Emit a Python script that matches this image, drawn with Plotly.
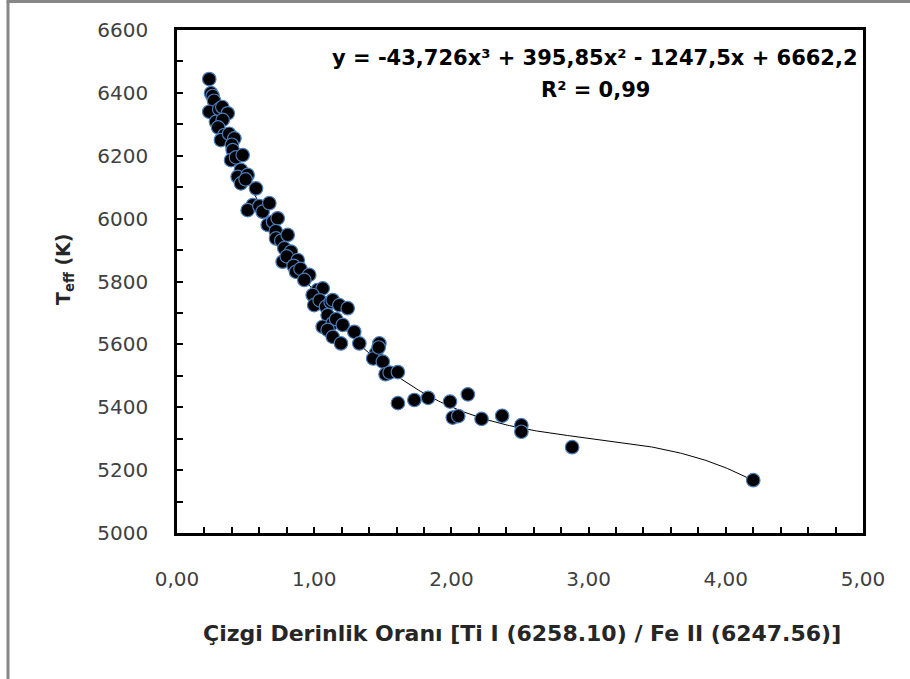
import numpy as np
import plotly.graph_objects as go

# Line depth ratio (x) and effective temperature (y)
ratio = [0.235, 0.248, 0.26, 0.27, 0.235, 0.308, 0.33, 0.37, 0.284, 0.333,
         0.30, 0.345, 0.32, 0.38, 0.418, 0.40, 0.406, 0.394, 0.43, 0.479,
         0.466, 0.442, 0.515, 0.466, 0.50, 0.576, 0.552, 0.515, 0.60, 0.624,
         0.673, 0.661, 0.70, 0.734, 0.72, 0.722, 0.76, 0.782, 0.807, 0.831,
         0.77, 0.80, 0.88, 0.85, 0.867, 0.90, 0.964, 0.928, 1.025, 1.062,
         0.989, 1.0, 1.04, 1.086, 1.12, 1.135, 1.183, 1.244, 1.098, 1.062,
         1.135, 1.16, 1.208, 1.098, 1.135, 1.292, 1.195, 1.329, 1.45, 1.475,
         1.43, 1.47, 1.50, 1.52, 1.55, 1.61, 1.61, 1.73, 1.83, 1.99,
         2.12, 2.01, 2.05, 2.22, 2.37, 2.51, 2.51, 2.88, 4.20]
teff = [6444, 6399, 6390, 6375, 6340, 6348, 6355, 6335, 6308, 6314,
        6290, 6266, 6250, 6270, 6255, 6235, 6218, 6186, 6195, 6202,
        6155, 6133, 6139, 6112, 6125, 6096, 6043, 6027, 6040, 6022,
        6049, 5980, 5990, 6001, 5960, 5937, 5930, 5906, 5948, 5895,
        5863, 5880, 5868, 5850, 5831, 5840, 5821, 5805, 5773, 5778,
        5757, 5725, 5740, 5720, 5735, 5741, 5725, 5715, 5693, 5656,
        5667, 5680, 5662, 5646, 5624, 5640, 5603, 5603, 5572, 5603,
        5555, 5590, 5545, 5505, 5510, 5512, 5413, 5423, 5430, 5418,
        5441, 5367, 5372, 5363, 5373, 5343, 5322, 5273, 5168]

# Polynomial trendline coefficients shown on the chart (x^3, x^2, x, const)
trend_coefs = [-43.726, 395.85, -1247.5, 6662.2]

x_ticks = [0, 1, 2, 3, 4, 5]
x_ticklabels = ["0,00", "1,00", "2,00", "3,00", "4,00", "5,00"]
y_ticks = [5000, 5200, 5400, 5600, 5800, 6000, 6200, 6400, 6600]

FONT = "DejaVu Sans"

xs = np.linspace(min(ratio), max(ratio), 300)
ys = np.polyval(trend_coefs, xs)

fig = go.Figure()
fig.add_trace(go.Scatter(x=xs, y=ys, mode="lines",
                         line=dict(color="black", width=1), hoverinfo="skip",
                         showlegend=False))
fig.add_trace(go.Scatter(x=ratio, y=teff, mode="markers",
                         marker=dict(size=13.5, color="black",
                                     line=dict(color="#4A7EBB", width=1.2)),
                         showlegend=False))

L, R, T, B = 177, 47, 30, 146
W, H = 910, 679
pw, ph = W - L - R, H - T - B

fig.update_layout(
    width=W, height=H,
    margin=dict(l=L, r=R, t=T, b=B, pad=0),
    paper_bgcolor="white", plot_bgcolor="white",
    font=dict(family=FONT, color="#404040"),
    xaxis=dict(range=[0, 5], tickvals=x_ticks, ticktext=x_ticklabels,
               ticks="inside", ticklen=6, tickwidth=2, tickcolor="black",
               minor=dict(dtick=0.2, ticks="inside", ticklen=6, tickwidth=2,
                          tickcolor="black"),
               showline=True, linecolor="black", linewidth=2.5, mirror=True,
               showgrid=False, zeroline=False,
               tickfont=dict(family=FONT, size=20, color="#404040"),
               ticklabelstandoff=26),
    yaxis=dict(range=[5000, 6600], tickvals=y_ticks,
               ticks="inside", ticklen=6, tickwidth=2, tickcolor="black",
               minor=dict(dtick=100, ticks="inside", ticklen=6, tickwidth=2,
                          tickcolor="black"),
               showline=True, linecolor="black", linewidth=2.5, mirror=True,
               showgrid=False, zeroline=False,
               tickfont=dict(family=FONT, size=20, color="#404040"),
               ticklabelstandoff=22),
)

# outer chart frame (left and top edges visible)
def px_x(p):
    return (p - L) / pw

def px_y(p):
    return (H - B - p) / ph

fig.add_shape(type="line", xref="paper", yref="paper",
              x0=px_x(8), x1=px_x(8), y0=px_y(1.5), y1=px_y(700),
              line=dict(color="#878787", width=3))
fig.add_shape(type="line", xref="paper", yref="paper",
              x0=px_x(6.5), x1=px_x(930), y0=px_y(1.5), y1=px_y(1.5),
              line=dict(color="#878787", width=3))

fig.add_annotation(xref="paper", yref="paper", x=px_x(522), y=px_y(633),
                   text="Çizgi Derinlik Oranı [Ti I (6258.10) / Fe II (6247.56)]",
                   showarrow=False, xanchor="center", yanchor="middle",
                   font=dict(family=FONT, size=22, color="#262626", weight="bold"))
fig.add_annotation(xref="paper", yref="paper", x=px_x(64), y=px_y(270),
                   text="T<sub>eff</sub> (K)", textangle=-90,
                   showarrow=False, xanchor="center", yanchor="middle",
                   font=dict(family=FONT, size=19, color="#262626", weight="bold"))
fig.add_annotation(xref="paper", yref="paper", x=px_x(595), y=px_y(58),
                   text="y = -43,726x³ + 395,85x² - 1247,5x + 6662,2",
                   showarrow=False, xanchor="center", yanchor="middle",
                   font=dict(family=FONT, size=21, color="black", weight="bold"))
fig.add_annotation(xref="paper", yref="paper", x=px_x(595), y=px_y(90),
                   text="R² = 0,99",
                   showarrow=False, xanchor="center", yanchor="middle",
                   font=dict(family=FONT, size=21, color="black", weight="bold"))

fig.write_html("out.html")
